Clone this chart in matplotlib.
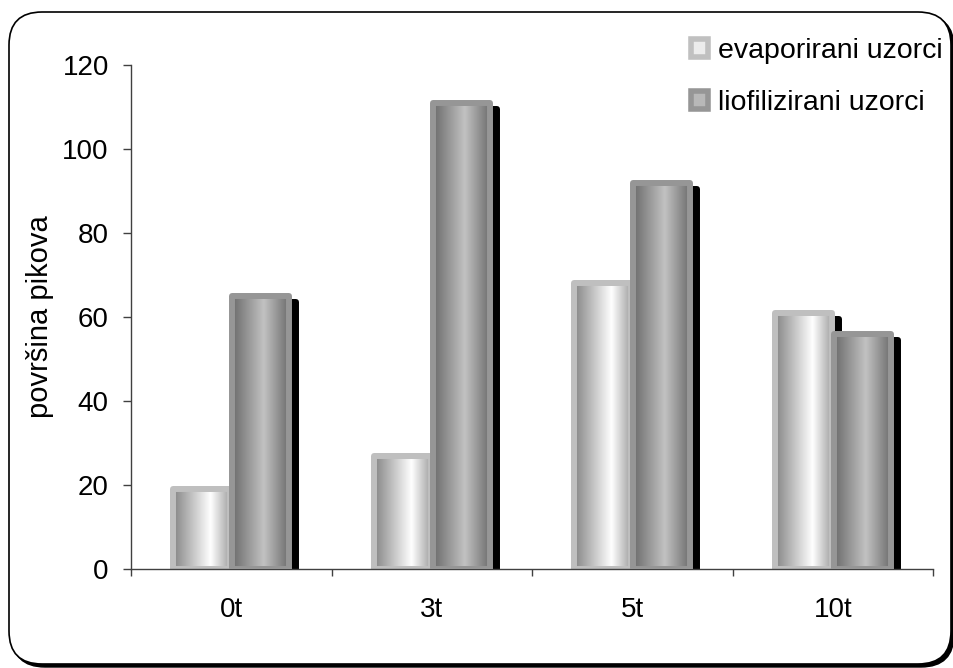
import numpy as np
import matplotlib
matplotlib.use('Agg')
import matplotlib.pyplot as plt
from matplotlib.patches import FancyBboxPatch, Patch
from matplotlib.transforms import ScaledTranslation

plt.rcParams['font.family'] = ['Liberation Sans', 'DejaVu Sans']

categories = ['0t', '3t', '5t', '10t']
evaporirani = [19, 27, 68, 61]
liofilizirani = [65, 111, 92, 56]
series_names = ['evaporirani uzorci', 'liofilizirani uzorci']

fig = plt.figure(figsize=(9.54, 6.68), dpi=100)

# rounded frame with shadow, in inches
shadow = FancyBboxPatch((0.12, 0.01), 9.42, 6.52, boxstyle='round,pad=0,rounding_size=0.33',
                        transform=fig.dpi_scale_trans, facecolor='black', edgecolor='black', zorder=-2)
frame = FancyBboxPatch((0.09, 0.04), 9.42, 6.52, boxstyle='round,pad=0,rounding_size=0.33',
                       transform=fig.dpi_scale_trans, facecolor='white', edgecolor='black',
                       linewidth=1.2, zorder=-1)
fig.patches.extend([shadow, frame])

ax = fig.add_axes([131/954, 1 - 569/668, (933 - 131)/954, (569 - 65)/668])
ax.patch.set_visible(False)

x = np.arange(len(categories))
w = 0.285
off = 0.148


def make_grad(left, mid, right, pos):
    t = np.linspace(0, 1, 200)
    vals = np.where(t < pos, left + (mid - left) * t / pos,
                    mid + (right - mid) * (t - pos) / (1 - pos))
    img = np.stack([vals, vals, vals], axis=-1)[None, :, :]
    return img


styles = [
    dict(data=evaporirani, xs=x - off, edge='#bfbfbf', grad=make_grad(0.52, 1.0, 0.62, 0.65), z=2),
    dict(data=liofilizirani, xs=x + off, edge='#969696', grad=make_grad(0.42, 0.76, 0.42, 0.55), z=4),
]

shift = ScaledTranslation(7/100, -6/100, fig.dpi_scale_trans)
for s in styles:
    # drop shadow
    sh = ax.bar(s['xs'], s['data'], w, color='black', edgecolor='black', linewidth=4.3, zorder=1)
    for p in sh:
        p.set_transform(ax.transData + shift)
        p.set_joinstyle('round')
    # gradient fill
    bars = ax.bar(s['xs'], s['data'], w, facecolor='none', edgecolor=s['edge'],
                  linewidth=4.3, zorder=s['z'] + 0.5)
    for p in bars:
        p.set_joinstyle('round')
        x0 = p.get_x()
        im = ax.imshow(s['grad'], extent=(x0, x0 + p.get_width(), 0, p.get_height()),
                       aspect='auto', zorder=s['z'], interpolation='bilinear')
        im.set_clip_path(p)

ax.set_xlim(-0.5, 3.5)
ax.set_ylim(0, 120)
ax.set_yticks(range(0, 121, 20))
ax.set_xticks(x)
ax.set_xticklabels(categories)
ax.set_xticks(np.arange(-0.5, 3.6, 1), minor=True)
ax.tick_params(axis='x', which='major', length=0, pad=20, labelsize=20)
ax.tick_params(axis='x', which='minor', length=5, width=1, color='#404040', direction='out')
ax.tick_params(axis='y', length=6, width=1, color='#404040', pad=10, labelsize=20)
for side in ['top', 'right']:
    ax.spines[side].set_visible(False)
for side in ['left', 'bottom']:
    ax.spines[side].set_color('#404040')
    ax.spines[side].set_linewidth(1)
ax.set_ylabel('površina pikova', fontsize=21, labelpad=6)

handles = [Patch(facecolor='#ececec', edgecolor='#c0c0c0', linewidth=4),
           Patch(facecolor='#b8b8b8', edgecolor='#969696', linewidth=4)]
fig.legend(handles, series_names, loc='upper right', bbox_to_anchor=(943/954, 1 - 38/668),
           frameon=False, fontsize=20.5, handlelength=0.6, handleheight=0.6,
           handletextpad=0.35, labelspacing=0.92, borderpad=0, borderaxespad=0)

fig.savefig('out.png', dpi=100)
